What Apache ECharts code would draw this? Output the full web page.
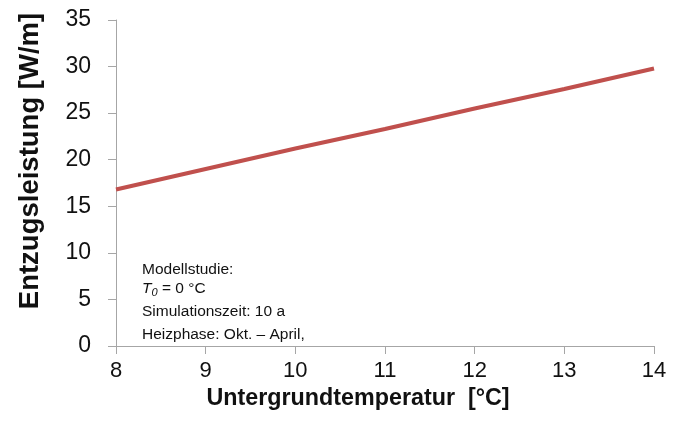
<!DOCTYPE html>
<html><head><meta charset="utf-8">
<script src="https://cdn.jsdelivr.net/npm/echarts@6/dist/echarts.min.js"></script>
<style>html,body{margin:0;padding:0;background:#fff}#c{width:673px;height:432px}</style>
</head><body><div id="c"></div>
<script>
var temperatures = [8, 9, 10, 11, 12, 13, 14];
var power = [16.8, 19.0, 21.2, 23.3, 25.5, 27.6, 29.8];
var xTitle = 'Untergrundtemperatur  [°C]';
var yTitle = 'Entzugsleistung [W/m]';
var noteLines = ['Modellstudie:', '{i|T}{s|0}{n| = 0 °C}', 'Simulationszeit: 10 a', 'Heizphase: Okt. – April,'];

var chart = echarts.init(document.getElementById('c'));
var font = 'Liberation Sans, Arial, sans-serif';
var axisGrey = '#A6A6A6';
var ink = '#111111';
var noteSize = 15.5;
chart.setOption({
  animation: false,
  textStyle: {fontFamily: font},
  grid: {left: 116, right: 19, top: 20, bottom: 86},
  xAxis: {
    type: 'value', min: 8, max: 14, interval: 1,
    axisLine: {lineStyle: {color: axisGrey, width: 1}},
    axisTick: {show: true, length: 8, lineStyle: {color: axisGrey}},
    axisLabel: {color: ink, fontSize: 22, margin: 14, fontFamily: font},
    splitLine: {show: false}
  },
  yAxis: {
    type: 'value', min: 0, max: 35, interval: 5,
    axisLine: {show: true, lineStyle: {color: axisGrey, width: 1}},
    axisTick: {show: true, length: 8, lineStyle: {color: axisGrey}},
    axisLabel: {color: ink, fontSize: 23, margin: 25, fontFamily: font},
    splitLine: {show: false}
  },
  series: [{
    type: 'line',
    data: temperatures.map(function (t, i) { return [t, power[i]]; }),
    showSymbol: false,
    lineStyle: {color: '#C0504D', width: 4},
    itemStyle: {color: '#C0504D'}
  }],
  graphic: [
    {type: 'text', x: 358, y: 399, style: {text: xTitle, fontSize: 23.3, fontWeight: 'bold', fill: ink, fontFamily: font, align: 'center', verticalAlign: 'middle'}},
    {type: 'text', x: 30, y: 161, rotation: Math.PI / 2, style: {text: yTitle, fontSize: 27.5, fontWeight: 'bold', fill: ink, fontFamily: font, align: 'center', verticalAlign: 'middle'}},
    {type: 'text', x: 142, y: 270, style: {text: noteLines[0], fontSize: noteSize, fill: ink, fontFamily: font, verticalAlign: 'middle'}},
    {type: 'text', x: 142, y: 289, style: {text: noteLines[1], fontSize: noteSize, fill: ink, fontFamily: font, verticalAlign: 'middle',
      rich: {i: {fontStyle: 'italic', fontSize: noteSize, fontFamily: font}, s: {fontStyle: 'italic', fontSize: 11, padding: [7, 0, 0, 0], fontFamily: font}, n: {fontSize: noteSize, fontFamily: font}}}},
    {type: 'text', x: 142, y: 312, style: {text: noteLines[2], fontSize: noteSize, fill: ink, fontFamily: font, verticalAlign: 'middle'}},
    {type: 'text', x: 142, y: 335, style: {text: noteLines[3], fontSize: noteSize, fill: ink, fontFamily: font, verticalAlign: 'middle'}}
  ]
});
</script></body></html>
